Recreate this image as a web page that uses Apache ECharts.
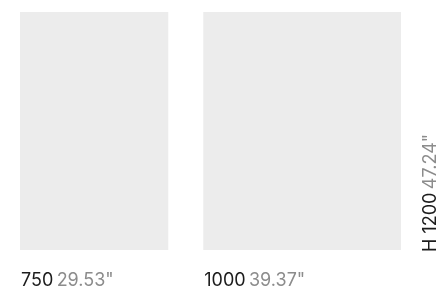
<!DOCTYPE html>
<html>
<head>
<meta charset="utf-8">
<script src="https://cdn.jsdelivr.net/npm/echarts@6/dist/echarts.min.js"></script>
<style>
  html, body { margin: 0; padding: 0; background: #fff; }
  #main { width: 439px; height: 295px; }
</style>
</head>
<body>
<div id="main"></div>
<script>
// sizes in mm, with inch equivalents
var widths = [750, 1000];
var widthInches = ['29.53"', '39.37"'];
var height = 1200;
var heightInch = '47.24"';

var gap = 177; // space between panels, in the same units

var rows = [];
var pos = 0;
for (var i = 0; i < widths.length; i++) {
    rows.push([pos, pos + widths[i], height, i]);
    pos += widths[i] + gap;
}
var xMax = pos - gap;

var font = 'Inter, Roboto, sans-serif';

var myChart = echarts.init(document.getElementById('main'));
var option = {
    animation: false,
    grid: { left: 20, right: 38, top: 12, bottom: 45 },
    xAxis: { type: 'value', min: 0, max: xMax, show: false },
    yAxis: { type: 'value', min: 0, max: height, show: false },
    series: [{
        type: 'custom',
        data: rows,
        encode: { x: [0, 1], y: 2 },
        renderItem: function (params, api) {
            var p0 = api.coord([api.value(0), 0]);
            var p1 = api.coord([api.value(1), api.value(2)]);
            var idx = api.value(3);
            var kids = [{
                type: 'rect',
                shape: { x: p0[0], y: p1[1], width: p1[0] - p0[0], height: p0[1] - p1[1] },
                style: { fill: '#ececec' }
            }, {
                type: 'text',
                x: p0[0] + 1,
                y: p0[1] + 31,
                style: {
                    text: '{a|' + widths[idx] + '} {b|' + widthInches[idx] + '}',
                    verticalAlign: 'middle',
                    align: 'left',
                    rich: {
                        a: { fontFamily: font, fontSize: 18, fill: '#1c1c1c' },
                        b: { fontFamily: font, fontSize: 18, fill: '#8c8c8c' }
                    }
                }
            }];
            if (idx === widths.length - 1) {
                kids.push({
                    type: 'text',
                    x: p1[0] + 30,
                    y: p0[1] + 2,
                    rotation: Math.PI / 2,
                    style: {
                        text: '{a|H ' + height + '} {b|' + heightInch + '}',
                        verticalAlign: 'middle',
                        align: 'left',
                        rich: {
                            a: { fontFamily: font, fontSize: 18, fill: '#1c1c1c' },
                            b: { fontFamily: font, fontSize: 18, fill: '#8c8c8c' }
                        }
                    }
                });
            }
            return { type: 'group', children: kids };
        }
    }]
};
myChart.setOption(option);
</script>
</body>
</html>
